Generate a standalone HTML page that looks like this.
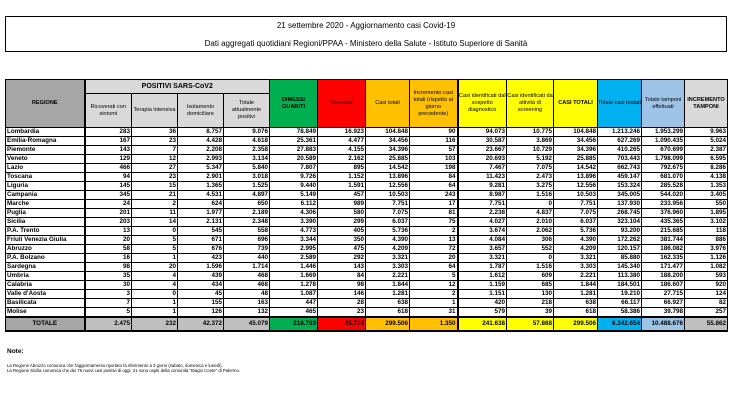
<!DOCTYPE html>
<html><head><meta charset="utf-8">
<style>
body{margin:0;width:740px;height:420px;background:#fff;position:relative;overflow:hidden;font-family:"Liberation Sans",sans-serif;}
.tbox{position:absolute;left:5px;top:16px;width:720px;height:34px;border:1px solid #000;}
.t1{position:absolute;left:0;width:100%;text-align:center;font-size:8px;top:4px;}
.t2{position:absolute;left:0;width:100%;text-align:center;font-size:8px;top:22px;}
table{position:absolute;left:5px;top:79px;border-collapse:collapse;table-layout:fixed;width:722px;}
td,th{border:1px solid #000;padding:0 1px;overflow:hidden;white-space:nowrap;}
th{font-size:5.6px;font-weight:normal;text-align:center;white-space:normal;line-height:7px;padding:0;}
th.b{font-weight:bold;}
tr.h1 th{height:13px;}
tr.h2 th{height:33px;}
tbody td{height:8px;line-height:8px;font-size:6.3px;font-weight:bold;text-align:right;}
tbody td:first-child{text-align:left;}
td.tk,th.tk{border-left:2px solid #000;}
tr.tot td{height:12px;background:#bfbfbf;border-top:2px solid #000;border-bottom:2px solid #000;}
tr.tot td:first-child{text-align:center;background:#a6a6a6;}
.note{position:absolute;left:7px;top:348px;font-size:6.5px;font-weight:bold;}
.n{position:absolute;left:7px;font-size:4.3px;white-space:nowrap;}
</style></head><body>
<div class="tbox"><div class="t1">21 settembre 2020 - Aggiornamento casi Covid-19</div><div class="t2">Dati aggregati quotidiani Regioni/PPAA - Ministero della Salute - Istituto Superiore di Sanità</div></div>
<table>
<colgroup><col style="width:79px"><col style="width:47px"><col style="width:46px"><col style="width:46px"><col style="width:46px"><col style="width:48px"><col style="width:48px"><col style="width:44px"><col style="width:48px"><col style="width:49px"><col style="width:47px"><col style="width:44px"><col style="width:44px"><col style="width:43px"><col style="width:43px"></colgroup>
<thead>
<tr class="h1">
<th rowspan="2" class="b" style="background:#a6a6a6">REGIONE</th>
<th colspan="4" class="b tk" style="background:#d9d9d9;font-size:7px">POSITIVI SARS-CoV2</th>
<th rowspan="2" class="b" style="background:#00b050">DIMESSI<br>GUARITI</th>
<th rowspan="2" style="background:#ff0000">Deceduti</th>
<th rowspan="2" style="background:#ffc000">Casi totali</th>
<th rowspan="2" style="background:#ffc000">Incremento casi totali (rispetto al giorno precedente)</th>
<th rowspan="2" class="tk" style="background:#ffff00">Casi identificati dal sospetto diagnostico</th>
<th rowspan="2" style="background:#ffff00">Casi identificati da attività di screening</th>
<th rowspan="2" class="b" style="background:#ffff00">CASI TOTALI</th>
<th rowspan="2" style="background:#00b0f0">Totale casi testati</th>
<th rowspan="2" style="background:#9dc3e6">Totale tamponi effettuati</th>
<th rowspan="2" class="b" style="background:#d9d9d9">INCREMENTO TAMPONI</th>
</tr>
<tr class="h2">
<th class="tk" style="background:#d9d9d9">Ricoverati con sintomi</th>
<th style="background:#d9d9d9">Terapia intensiva</th>
<th style="background:#d9d9d9">Isolamento domiciliare</th>
<th style="background:#d9d9d9">Totale attualmente positivi</th>
</tr>
</thead>
<tbody>
<tr><td>Lombardia</td><td class="tk">283</td><td>36</td><td>8.757</td><td>9.076</td><td>78.849</td><td>16.923</td><td>104.848</td><td>90</td><td class="tk">94.073</td><td>10.775</td><td>104.848</td><td>1.213.246</td><td>1.953.299</td><td>9.963</td></tr>
<tr><td>Emilia-Romagna</td><td class="tk">167</td><td>23</td><td>4.428</td><td>4.618</td><td>25.361</td><td>4.477</td><td>34.456</td><td>116</td><td class="tk">30.587</td><td>3.869</td><td>34.456</td><td>627.269</td><td>1.090.435</td><td>5.024</td></tr>
<tr><td>Piemonte</td><td class="tk">143</td><td>7</td><td>2.208</td><td>2.358</td><td>27.883</td><td>4.155</td><td>34.396</td><td>57</td><td class="tk">23.667</td><td>10.729</td><td>34.396</td><td>410.265</td><td>670.699</td><td>2.387</td></tr>
<tr><td>Veneto</td><td class="tk">129</td><td>12</td><td>2.993</td><td>3.134</td><td>20.589</td><td>2.162</td><td>25.885</td><td>103</td><td class="tk">20.693</td><td>5.192</td><td>25.885</td><td>703.443</td><td>1.798.099</td><td>6.595</td></tr>
<tr><td>Lazio</td><td class="tk">466</td><td>27</td><td>5.347</td><td>5.840</td><td>7.807</td><td>895</td><td>14.542</td><td>198</td><td class="tk">7.467</td><td>7.075</td><td>14.542</td><td>662.743</td><td>792.675</td><td>8.286</td></tr>
<tr><td>Toscana</td><td class="tk">94</td><td>23</td><td>2.901</td><td>3.018</td><td>9.726</td><td>1.152</td><td>13.896</td><td>84</td><td class="tk">11.423</td><td>2.473</td><td>13.896</td><td>459.147</td><td>681.070</td><td>4.138</td></tr>
<tr><td>Liguria</td><td class="tk">145</td><td>15</td><td>1.365</td><td>1.525</td><td>9.440</td><td>1.591</td><td>12.556</td><td>64</td><td class="tk">9.281</td><td>3.275</td><td>12.556</td><td>153.324</td><td>285.528</td><td>1.353</td></tr>
<tr><td>Campania</td><td class="tk">345</td><td>21</td><td>4.531</td><td>4.897</td><td>5.149</td><td>457</td><td>10.503</td><td>243</td><td class="tk">8.987</td><td>1.516</td><td>10.503</td><td>345.005</td><td>544.020</td><td>3.405</td></tr>
<tr><td>Marche</td><td class="tk">24</td><td>2</td><td>624</td><td>650</td><td>6.112</td><td>989</td><td>7.751</td><td>17</td><td class="tk">7.751</td><td>0</td><td>7.751</td><td>137.930</td><td>233.956</td><td>550</td></tr>
<tr><td>Puglia</td><td class="tk">201</td><td>11</td><td>1.977</td><td>2.189</td><td>4.306</td><td>580</td><td>7.075</td><td>81</td><td class="tk">2.238</td><td>4.837</td><td>7.075</td><td>268.745</td><td>376.960</td><td>1.895</td></tr>
<tr><td>Sicilia</td><td class="tk">203</td><td>14</td><td>2.131</td><td>2.348</td><td>3.390</td><td>299</td><td>6.037</td><td>75</td><td class="tk">4.027</td><td>2.010</td><td>6.037</td><td>323.104</td><td>435.365</td><td>3.102</td></tr>
<tr><td>P.A. Trento</td><td class="tk">13</td><td>0</td><td>545</td><td>558</td><td>4.773</td><td>405</td><td>5.736</td><td>2</td><td class="tk">3.674</td><td>2.062</td><td>5.736</td><td>93.200</td><td>215.685</td><td>118</td></tr>
<tr><td>Friuli Venezia Giulia</td><td class="tk">20</td><td>5</td><td>671</td><td>696</td><td>3.344</td><td>350</td><td>4.390</td><td>13</td><td class="tk">4.084</td><td>306</td><td>4.390</td><td>172.262</td><td>381.744</td><td>886</td></tr>
<tr><td>Abruzzo</td><td class="tk">58</td><td>5</td><td>676</td><td>739</td><td>2.995</td><td>475</td><td>4.209</td><td>72</td><td class="tk">3.657</td><td>552</td><td>4.209</td><td>120.157</td><td>186.082</td><td>3.976</td></tr>
<tr><td>P.A. Bolzano</td><td class="tk">16</td><td>1</td><td>423</td><td>440</td><td>2.589</td><td>292</td><td>3.321</td><td>20</td><td class="tk">3.321</td><td>0</td><td>3.321</td><td>85.880</td><td>162.335</td><td>1.126</td></tr>
<tr><td>Sardegna</td><td class="tk">98</td><td>20</td><td>1.596</td><td>1.714</td><td>1.446</td><td>143</td><td>3.303</td><td>64</td><td class="tk">1.787</td><td>1.516</td><td>3.303</td><td>145.340</td><td>171.477</td><td>1.082</td></tr>
<tr><td>Umbria</td><td class="tk">35</td><td>4</td><td>439</td><td>468</td><td>1.669</td><td>84</td><td>2.221</td><td>5</td><td class="tk">1.612</td><td>609</td><td>2.221</td><td>113.380</td><td>188.200</td><td>593</td></tr>
<tr><td>Calabria</td><td class="tk">30</td><td>4</td><td>434</td><td>468</td><td>1.278</td><td>98</td><td>1.844</td><td>12</td><td class="tk">1.159</td><td>685</td><td>1.844</td><td>184.501</td><td>186.607</td><td>920</td></tr>
<tr><td>Valle d'Aosta</td><td class="tk">3</td><td>0</td><td>45</td><td>48</td><td>1.087</td><td>146</td><td>1.281</td><td>2</td><td class="tk">1.151</td><td>130</td><td>1.281</td><td>19.210</td><td>27.715</td><td>124</td></tr>
<tr><td>Basilicata</td><td class="tk">7</td><td>1</td><td>155</td><td>163</td><td>447</td><td>28</td><td>638</td><td>1</td><td class="tk">420</td><td>218</td><td>638</td><td>66.117</td><td>66.927</td><td>82</td></tr>
<tr><td>Molise</td><td class="tk">5</td><td>1</td><td>126</td><td>132</td><td>465</td><td>23</td><td>618</td><td>31</td><td class="tk">579</td><td>39</td><td>618</td><td>58.386</td><td>39.798</td><td>257</td></tr>
<tr class="tot"><td>TOTALE</td><td class="tk">2.475</td><td>232</td><td>42.372</td><td>45.079</td><td style="background:#00b050">218.703</td><td style="background:#ff0000">35.724</td><td style="background:#ffc000">299.506</td><td style="background:#ffc000">1.350</td><td class="tk" style="background:#ffff00">241.638</td><td style="background:#ffff00">57.868</td><td style="background:#ffff00">299.506</td><td style="background:#00b0f0">6.342.654</td><td style="background:#9dc3e6">10.488.676</td><td>55.862</td></tr>
</tbody>
</table>
<div class="note">Note:</div>
<div class="n" style="top:363px">La Regione Abruzzo comunica che l'aggiornamento riportato fa riferimento a 3 giorni (sabato, domenica e lunedì).</div>
<div class="n" style="top:368px">La Regione Sicilia comunica che dei 75 nuovi casi positivi di oggi, 21 sono ospiti della comunità "Biagio Conte" di Palermo.</div>
</body></html>
